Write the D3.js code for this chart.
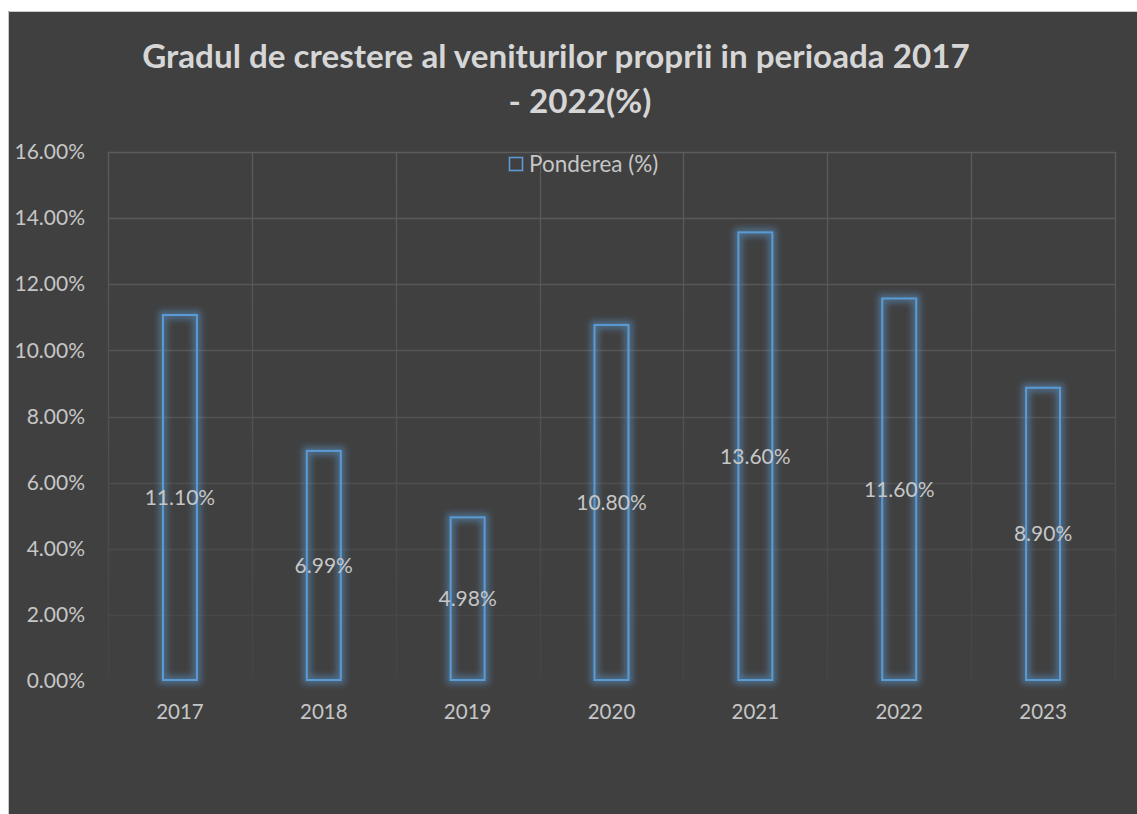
<!DOCTYPE html>
<html>
<head>
<meta charset="utf-8">
<script src="https://cdn.jsdelivr.net/npm/d3@7"></script>
<style>
  body { margin: 0; background: #ffffff; }
  svg { display: block; }
</style>
</head>
<body>
<div id="chart"></div>
<script>
"use strict";

const years = ['2017', '2018', '2019', '2020', '2021', '2022', '2023'];
const ponderea = [0.111, 0.0699, 0.0498, 0.108, 0.136, 0.116, 0.089];
const yTicks = [0, 0.02, 0.04, 0.06, 0.08, 0.10, 0.12, 0.14, 0.16];
const titleLines = ['Gradul de crestere al veniturilor proprii in perioada 2017', '- 2022(%)'];
const seriesName = 'Ponderea (%)';

const width = 1137;
const height = 814;
const plot = { left: 108, right: 1115, top: 152, bottom: 681 };
const barBlue = '#5b9bd5';
const font = 'Lato, "Open Sans", sans-serif';
const labelGrey = '#c6c6c6';

const svg = d3.select('#chart')
  .append('svg')
  .attr('width', width)
  .attr('height', height);

const defs = svg.append('defs');

// soft glow round the bar outlines
const glow = defs.append('filter')
  .attr('id', 'glow')
  .attr('x', '-50%').attr('y', '-10%')
  .attr('width', '200%').attr('height', '120%');
glow.append('feGaussianBlur')
  .attr('in', 'SourceGraphic')
  .attr('stdDeviation', 3)
  .attr('result', 'blur');
const merge = glow.append('feMerge');
merge.append('feMergeNode').attr('in', 'blur');

// gridlines fade out towards the bottom
const gridGrad = defs.append('linearGradient')
  .attr('id', 'gridFade')
  .attr('gradientUnits', 'userSpaceOnUse')
  .attr('x1', 0).attr('y1', plot.top)
  .attr('x2', 0).attr('y2', plot.bottom);
gridGrad.append('stop').attr('offset', 0).attr('stop-color', '#5c5c5c');
gridGrad.append('stop').attr('offset', 0.45).attr('stop-color', '#535353');
gridGrad.append('stop').attr('offset', 1).attr('stop-color', '#444444');

// chart area background + border
svg.append('rect')
  .attr('x', 8).attr('y', 11)
  .attr('width', width - 8).attr('height', height - 11)
  .attr('fill', '#404040');
svg.append('path')
  .attr('d', `M8.5,${height}V11.5H${width}`)
  .attr('fill', 'none')
  .attr('stroke', '#c8c8c8')
  .attr('stroke-width', 1);

const x = d3.scaleBand()
  .domain(years)
  .range([plot.left, plot.right])
  .paddingInner(0.75)
  .paddingOuter(0.375);

const y = d3.scaleLinear()
  .domain([0, 0.16])
  .range([plot.bottom, plot.top]);

const step = x.step();
const gridX = years.map(d => x(d) - step * 0.375).concat([plot.right]);

const grid = svg.append('g').attr('stroke', 'url(#gridFade)').attr('stroke-width', 1.3);
grid.selectAll('line.h')
  .data(yTicks.slice(1))
  .enter().append('line')
    .attr('class', 'h')
    .attr('x1', plot.left).attr('x2', plot.right)
    .attr('y1', d => Math.round(y(d)) + 0.5)
    .attr('y2', d => Math.round(y(d)) + 0.5);
grid.selectAll('line.v')
  .data(gridX)
  .enter().append('line')
    .attr('class', 'v')
    .attr('x1', d => Math.round(d) + 0.5).attr('x2', d => Math.round(d) + 0.5)
    .attr('y1', plot.top).attr('y2', plot.bottom);

// y axis labels
const yAxis = svg.append('g')
  .attr('transform', `translate(${plot.left - 23},0)`)
  .call(d3.axisLeft(y).tickValues(yTicks).tickFormat(d3.format('.2%')).tickSize(0).tickPadding(0));
yAxis.select('.domain').remove();
yAxis.selectAll('text')
  .attr('fill', labelGrey)
  .style('font-family', font)
  .style('font-size', '21px');

// x axis labels
const xAxis = svg.append('g')
  .attr('transform', `translate(0,${plot.bottom})`)
  .call(d3.axisBottom(x).tickSize(0).tickPadding(23));
xAxis.select('.domain').remove();
xAxis.selectAll('text')
  .attr('fill', labelGrey)
  .style('font-family', font)
  .style('font-size', '20.5px');

// bars
const bars = svg.append('g');
bars.selectAll('rect.glow')
  .data(ponderea)
  .enter().append('rect')
    .attr('class', 'glow')
    .attr('x', (d, i) => x(years[i]) + 1)
    .attr('y', d => y(d) + 1)
    .attr('width', x.bandwidth() - 2)
    .attr('height', d => y(0) - y(d) - 2)
    .attr('fill', 'none')
    .attr('stroke', barBlue)
    .attr('stroke-opacity', 0.5)
    .attr('stroke-width', 8)
    .attr('filter', 'url(#glow)');
bars.selectAll('rect.bar')
  .data(ponderea)
  .enter().append('rect')
    .attr('class', 'bar')
    .attr('x', (d, i) => x(years[i]) + 1)
    .attr('y', d => y(d) + 1)
    .attr('width', x.bandwidth() - 2)
    .attr('height', d => y(0) - y(d) - 2)
    .attr('fill', 'none')
    .attr('stroke', barBlue)
    .attr('stroke-width', 2);

// data labels, centred in the bar
svg.append('g').selectAll('text')
  .data(ponderea)
  .enter().append('text')
    .attr('x', (d, i) => x(years[i]) + x.bandwidth() / 2)
    .attr('y', d => (y(d) + y(0)) / 2)
    .attr('dy', '0.35em')
    .attr('text-anchor', 'middle')
    .attr('fill', labelGrey)
    .style('font-family', font)
    .style('font-size', '21px')
    .text(d => d3.format('.2%')(d));

// title (first line keeps Excel's trailing-space offset)
svg.append('g').selectAll('text')
  .data(titleLines)
  .enter().append('text')
    .attr('x', (d, i) => i === 0 ? 556 : 580)
    .attr('y', (d, i) => 68 + i * 45)
    .attr('text-anchor', 'middle')
    .attr('fill', '#d6d6d6')
    .style('font-family', font)
    .style('font-weight', 'bold')
    .style('font-size', '33.2px')
    .text(d => d);

// legend
const legend = svg.append('g').attr('transform', 'translate(509,157)');
legend.append('rect')
  .attr('x', 0.5).attr('y', 0.5)
  .attr('width', 13).attr('height', 13)
  .attr('fill', 'none')
  .attr('stroke', barBlue)
  .attr('stroke-width', 1.6);
legend.append('text')
  .attr('x', 20).attr('y', 7.5)
  .attr('dy', '0.35em')
  .attr('fill', labelGrey)
  .style('font-family', font)
  .style('font-size', '22.5px')
  .text(seriesName);
</script>
</body>
</html>
